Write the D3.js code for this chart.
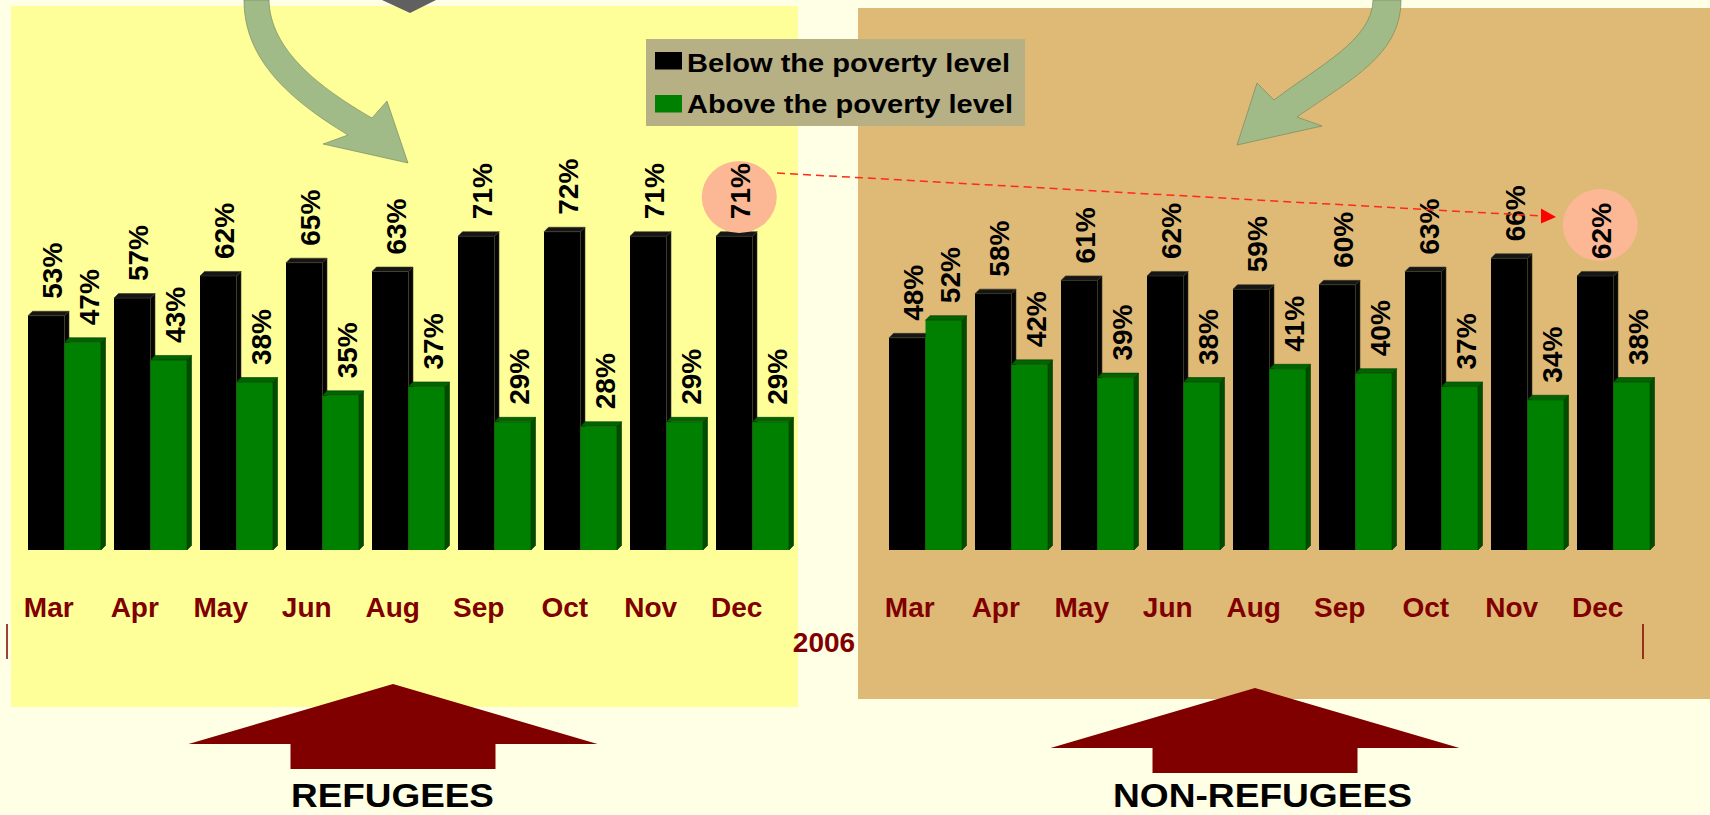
<!DOCTYPE html>
<html>
<head>
<meta charset="utf-8">
<script src="https://cdn.jsdelivr.net/npm/d3@7"></script>
<style>
  body { margin: 0; background: #FFFFE5; }
  svg { display: block; font-family: "Liberation Sans", Arial, sans-serif; }
</style>
</head>
<body>
<div id="chart"></div>
<script>
// data
const months = ['Mar', 'Apr', 'May', 'Jun', 'Aug', 'Sep', 'Oct', 'Nov', 'Dec']
const refugeesBelow = [53, 57, 62, 65, 63, 71, 72, 71, 71]
const refugeesAbove = [47, 43, 38, 35, 37, 29, 28, 29, 29]
const nonRefugeesBelow = [48, 58, 61, 62, 59, 60, 63, 66, 62]
const nonRefugeesAbove = [52, 42, 39, 38, 41, 40, 37, 34, 38]
const seriesNames = ['Below the poverty level', 'Above the poverty level']
const yearLabel = '2006'

const W = 1710, H = 815
const svg = d3.select('#chart').append('svg').attr('width', W).attr('height', H)
svg.append('rect').attr('width', W).attr('height', H).attr('fill', '#FFFFE5')

// panel backgrounds
svg.append('rect').attr('x', 11).attr('y', 6).attr('width', 787).attr('height', 701).attr('fill', '#FFFF99')
svg.append('rect').attr('x', 858).attr('y', 8).attr('width', 852).attr('height', 691).attr('fill', '#DEBA76')

const y = d3.scaleLinear().domain([0, 100]).range([550, 108])
const depth = 4.5
const colors = {
  below: {front: '#000000', top: '#151515', side: '#050505', stroke: '#3a3a2a'},
  above: {front: '#008000', top: '#006400', side: '#004d00', stroke: '#003a00'}
}

// curved green arrows
svg.append('path')
  .attr('d', 'M244,0C244,60 290,100 348,135L323,144L408,163L387,101L372,118C320,88 270,50 269,0Z')
  .attr('fill', '#A0BB88').attr('stroke', '#6f7f55').attr('stroke-width', 0.6)
svg.append('path')
  .attr('d', 'M1401,0C1401,55 1350,80 1297,117L1322,126L1237,145L1257,83L1274,100C1320,65 1372,40 1373,0Z')
  .attr('fill', '#A0BB88').attr('stroke', '#6f7f55').attr('stroke-width', 0.6)
// grey chevron at the top
svg.append('path').attr('d', 'M382,0L436,0L410,13Z').attr('fill', '#606060')

function drawPanel(x0, below, above) {
  const g = svg.append('g')
  const x = d3.scaleBand().domain(months).range([x0, x0 + 761]).paddingInner(13 / 86).paddingOuter(0)
  const x1 = d3.scaleBand().domain(['below', 'above']).range([0, x.bandwidth()])
  const rows = months.map((m, i) => ({month: m, below: below[i], above: above[i]}))

  const bars = []
  rows.forEach(r => {
    ['below', 'above'].forEach(k => bars.push({month: r.month, key: k, value: r[k]}))
  })

  const bg = g.selectAll('g.bar').data(bars).enter().append('g').attr('class', 'bar')
  bg.each(function (d) {
    const el = d3.select(this)
    const bx = x(d.month) + x1(d.key), bw = x1.bandwidth()
    const top = y(d.value), base = y(0)
    const c = colors[d.key]
    el.append('rect').attr('x', bx).attr('y', top).attr('width', bw).attr('height', base - top).attr('fill', c.front)
    el.append('path')
      .attr('d', `M${bx + bw},${base}L${bx + bw + depth},${base - depth}L${bx + bw + depth},${top - depth}L${bx + bw},${top}Z`)
      .attr('fill', c.side).attr('stroke', c.stroke).attr('stroke-width', 0.6)
    el.append('path')
      .attr('d', `M${bx},${top}L${bx + depth},${top - depth}L${bx + bw + depth},${top - depth}L${bx + bw},${top}Z`)
      .attr('fill', c.top).attr('stroke', c.stroke).attr('stroke-width', 0.6)
  })

  // month labels
  g.selectAll('text.month').data(months).enter().append('text')
    .attr('class', 'month')
    .attr('x', m => x(m) + x1.bandwidth() / 2 + 2.5)
    .attr('y', 617)
    .attr('text-anchor', 'middle')
    .attr('font-size', 28).attr('font-weight', 'bold').attr('fill', '#800000')
    .text(m => m)

  return {x, x1, bars}
}

function drawLabels(panel) {
  const {x, x1, bars} = panel
  svg.append('g').selectAll('text.val').data(bars).enter().append('text')
    .attr('class', 'val')
    .attr('transform', d => `translate(${x(d.month) + x1(d.key) + x1.bandwidth() / 2 + 6},${y(d.value) - 17}) rotate(-90)`)
    .attr('dy', '0.36em')
    .attr('font-size', 28).attr('font-weight', 'bold').attr('fill', '#000')
    .text(d => d.value + '%')
}

const left = drawPanel(28, refugeesBelow, refugeesAbove)
const right = drawPanel(889, nonRefugeesBelow, nonRefugeesAbove)

// highlight circles on December "below" values
const lastM = months[months.length - 1]
const leftCx = left.x(lastM) + left.x1.bandwidth() / 2 + 5
const rightCx = right.x(lastM) + right.x1.bandwidth() / 2 + 5
svg.append('ellipse').attr('cx', leftCx).attr('cy', 197).attr('rx', 37.5).attr('ry', 36).attr('fill', '#FCB794')
svg.append('ellipse').attr('cx', rightCx).attr('cy', 225).attr('rx', 37.5).attr('ry', 36).attr('fill', '#FCB794')

drawLabels(left)
drawLabels(right)

// dashed red connector with arrowhead
svg.append('line').attr('x1', 777).attr('y1', 173).attr('x2', 1542).attr('y2', 216)
  .attr('stroke', '#FF2A1A').attr('stroke-width', 1.5).attr('stroke-dasharray', '8,5')
svg.append('path').attr('d', 'M1541,208.5L1541,223.5L1556,217Z').attr('fill', '#FF0000')

// year group label and axis end ticks
svg.append('text').attr('x', 824).attr('y', 652).attr('text-anchor', 'middle')
  .attr('font-size', 28).attr('font-weight', 'bold').attr('fill', '#800000').text(yearLabel)
svg.selectAll('line.tick').data([7, 1643]).enter().append('line')
  .attr('x1', d => d).attr('x2', d => d).attr('y1', 624).attr('y2', 659)
  .attr('stroke', '#800000').attr('stroke-width', 1.5)

// legend
const lg = svg.append('g')
lg.append('rect').attr('x', 646).attr('y', 39).attr('width', 379).attr('height', 87).attr('fill', '#B8B085')
lg.selectAll('rect.sw').data(seriesNames).enter().append('rect').attr('class', 'sw')
  .attr('x', 655).attr('y', (d, i) => 52 + i * 43).attr('width', 27).attr('height', 17.5)
  .attr('fill', (d, i) => i === 0 ? '#000000' : '#008000')
lg.selectAll('text.lt').data(seriesNames).enter().append('text').attr('class', 'lt')
  .attr('x', 687).attr('y', (d, i) => 71.5 + i * 41.5)
  .attr('font-size', 25).attr('font-weight', 'bold').attr('fill', '#000')
  .attr('textLength', (d, i) => i === 0 ? 323 : 326).attr('lengthAdjust', 'spacingAndGlyphs')
  .text(d => d)

// dark red block arrows and captions
function blockArrow(tipX, tipY, halfW, wingY, shaftHalf, bottom) {
  return `M${tipX},${tipY}L${tipX + halfW},${wingY}L${tipX + shaftHalf},${wingY}L${tipX + shaftHalf},${bottom}` +
    `L${tipX - shaftHalf},${bottom}L${tipX - shaftHalf},${wingY}L${tipX - halfW},${wingY}Z`
}
svg.append('path').attr('d', blockArrow(393, 684, 204.5, 744, 102.5, 769)).attr('fill', '#800000')
svg.append('path').attr('d', blockArrow(1255, 688, 204.5, 748, 102.5, 773)).attr('fill', '#800000')

svg.append('text').attr('x', 392.5).attr('y', 807).attr('text-anchor', 'middle')
  .attr('font-size', 33).attr('font-weight', 'bold').attr('fill', '#000')
  .attr('textLength', 203).attr('lengthAdjust', 'spacingAndGlyphs').text('REFUGEES')
svg.append('text').attr('x', 1262.5).attr('y', 807).attr('text-anchor', 'middle')
  .attr('font-size', 33).attr('font-weight', 'bold').attr('fill', '#000')
  .attr('textLength', 299).attr('lengthAdjust', 'spacingAndGlyphs').text('NON-REFUGEES')
</script>
</body>
</html>
